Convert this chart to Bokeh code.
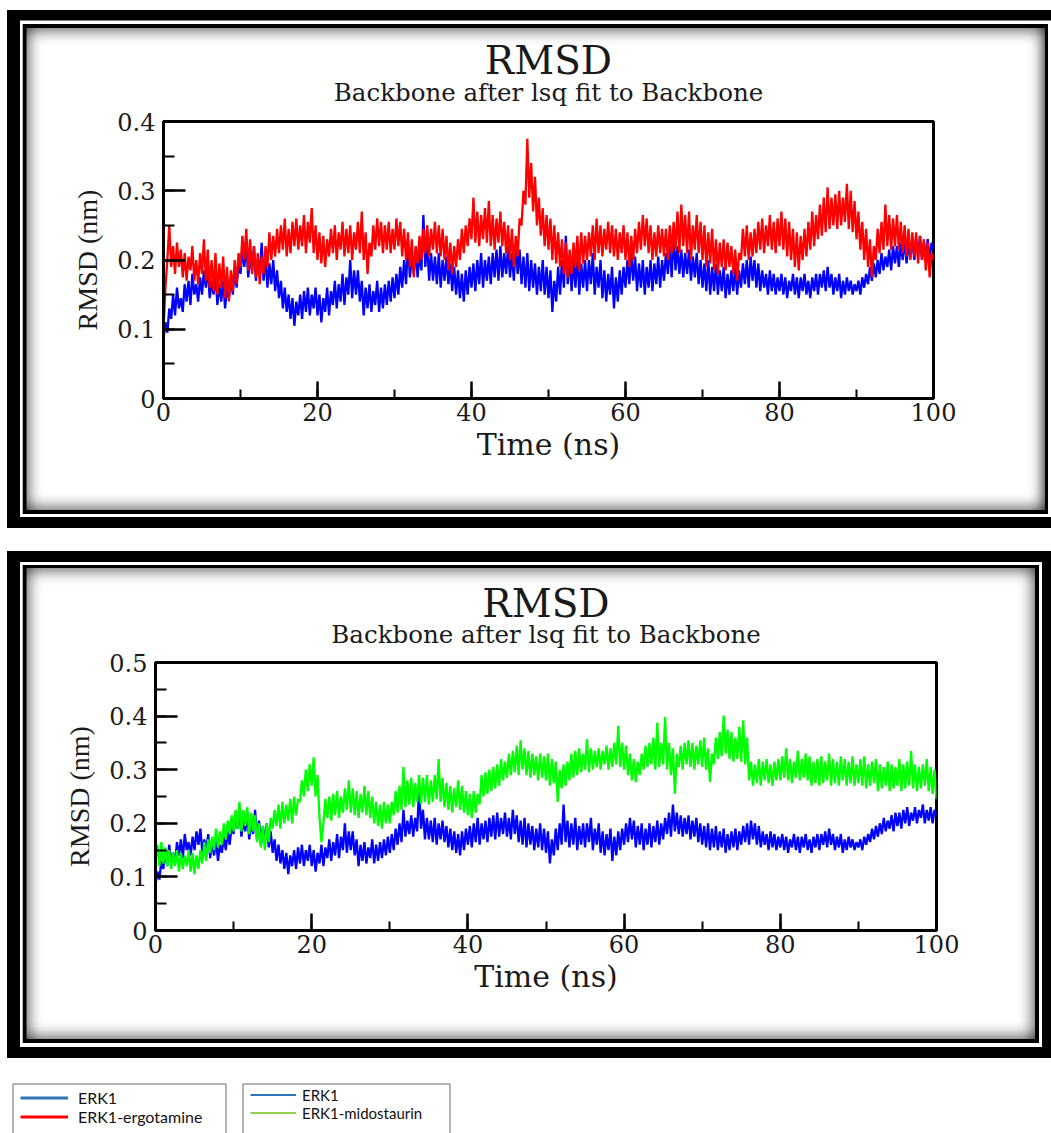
import numpy as np
from bokeh.plotting import figure
from bokeh.models import Range1d, SingleIntervalTicker, BoxAnnotation, Title, Legend, LegendItem
from bokeh.embed import file_html
from bokeh.resources import INLINE

# ---------------- data (0.25 ns sampling) ----------------
time_ns = np.arange(0, 100.01, 0.25)

erk1 = [
    0.085, 0.11, 0.095, 0.13, 0.115, 0.15, 0.12, 0.16, 0.13, 0.145, 0.125, 0.165, 0.14, 0.17, 0.135, 0.18, 0.15, 0.165, 0.14, 0.175,
    0.15, 0.185, 0.16, 0.19, 0.145, 0.17, 0.15, 0.18, 0.135, 0.165, 0.14, 0.17, 0.13, 0.16, 0.145, 0.175, 0.15, 0.185, 0.16, 0.195,
    0.18, 0.215, 0.19, 0.225, 0.175, 0.205, 0.185, 0.22, 0.17, 0.2, 0.18, 0.225, 0.17, 0.205, 0.16, 0.195, 0.165, 0.2, 0.155, 0.185,
    0.145, 0.17, 0.13, 0.16, 0.125, 0.15, 0.115, 0.145, 0.105, 0.14, 0.12, 0.15, 0.115, 0.155, 0.125, 0.16, 0.12, 0.15, 0.13, 0.16,
    0.12, 0.15, 0.11, 0.145, 0.125, 0.16, 0.12, 0.155, 0.135, 0.17, 0.13, 0.165, 0.14, 0.18, 0.135, 0.175, 0.15, 0.2, 0.145, 0.185,
    0.15, 0.185, 0.14, 0.17, 0.12, 0.16, 0.13, 0.165, 0.125, 0.155, 0.135, 0.17, 0.125, 0.16, 0.13, 0.165, 0.135, 0.17, 0.14, 0.175,
    0.145, 0.18, 0.15, 0.19, 0.16, 0.2, 0.165, 0.225, 0.175, 0.205, 0.18, 0.215, 0.175, 0.21, 0.185, 0.265, 0.19, 0.225, 0.17, 0.21,
    0.17, 0.205, 0.165, 0.21, 0.16, 0.2, 0.17, 0.205, 0.165, 0.195, 0.155, 0.19, 0.15, 0.185, 0.145, 0.18, 0.14, 0.185, 0.15, 0.19,
    0.16, 0.195, 0.155, 0.2, 0.165, 0.21, 0.16, 0.2, 0.17, 0.205, 0.165, 0.21, 0.175, 0.215, 0.17, 0.22, 0.175, 0.21, 0.18, 0.22,
    0.175, 0.21, 0.17, 0.225, 0.18, 0.215, 0.165, 0.205, 0.16, 0.21, 0.155, 0.2, 0.16, 0.195, 0.15, 0.19, 0.155, 0.2, 0.15, 0.19,
    0.145, 0.185, 0.125, 0.17, 0.14, 0.19, 0.15, 0.2, 0.16, 0.235, 0.165, 0.205, 0.155, 0.2, 0.16, 0.21, 0.15, 0.195, 0.16, 0.2,
    0.155, 0.2, 0.165, 0.21, 0.15, 0.19, 0.16, 0.2, 0.145, 0.185, 0.14, 0.18, 0.15, 0.19, 0.13, 0.175, 0.14, 0.185, 0.15, 0.19,
    0.16, 0.2, 0.165, 0.21, 0.17, 0.205, 0.155, 0.195, 0.16, 0.2, 0.15, 0.19, 0.16, 0.2, 0.155, 0.195, 0.165, 0.205, 0.16, 0.2,
    0.17, 0.21, 0.18, 0.22, 0.175, 0.235, 0.185, 0.22, 0.18, 0.215, 0.175, 0.21, 0.18, 0.215, 0.17, 0.205, 0.175, 0.21, 0.165, 0.2,
    0.16, 0.195, 0.155, 0.2, 0.15, 0.19, 0.155, 0.195, 0.15, 0.185, 0.155, 0.19, 0.145, 0.18, 0.15, 0.185, 0.155, 0.19, 0.15, 0.185,
    0.16, 0.195, 0.165, 0.2, 0.16, 0.205, 0.17, 0.2, 0.16, 0.195, 0.155, 0.185, 0.16, 0.18, 0.15, 0.185, 0.155, 0.18, 0.15, 0.175,
    0.155, 0.18, 0.15, 0.175, 0.145, 0.17, 0.155, 0.18, 0.15, 0.175, 0.145, 0.175, 0.155, 0.18, 0.15, 0.17, 0.145, 0.175, 0.155, 0.18,
    0.15, 0.18, 0.16, 0.185, 0.155, 0.19, 0.16, 0.18, 0.15, 0.175, 0.155, 0.18, 0.145, 0.17, 0.15, 0.175, 0.155, 0.17, 0.15, 0.165,
    0.155, 0.17, 0.15, 0.175, 0.16, 0.18, 0.165, 0.19, 0.17, 0.195, 0.175, 0.2, 0.18, 0.21, 0.185, 0.205, 0.19, 0.215, 0.185, 0.22,
    0.195, 0.22, 0.19, 0.225, 0.2, 0.23, 0.195, 0.22, 0.205, 0.23, 0.2, 0.225, 0.21, 0.235, 0.2, 0.225, 0.205, 0.23, 0.2, 0.225,
    0.215,
]

erk1_ergotamine = [
    0.1, 0.16, 0.2, 0.25, 0.19, 0.22, 0.18, 0.225, 0.19, 0.215, 0.175, 0.21, 0.17, 0.205, 0.185, 0.22, 0.17, 0.2, 0.165, 0.21,
    0.18, 0.23, 0.17, 0.215, 0.16, 0.2, 0.155, 0.21, 0.15, 0.195, 0.16, 0.205, 0.145, 0.19, 0.14, 0.185, 0.155, 0.2, 0.165, 0.21,
    0.19, 0.235, 0.2, 0.245, 0.185, 0.23, 0.18, 0.22, 0.175, 0.21, 0.165, 0.205, 0.18, 0.22, 0.19, 0.24, 0.2, 0.235, 0.205, 0.245,
    0.21, 0.25, 0.215, 0.26, 0.205, 0.245, 0.21, 0.255, 0.22, 0.26, 0.215, 0.25, 0.22, 0.265, 0.21, 0.255, 0.225, 0.275, 0.21, 0.25,
    0.2, 0.24, 0.195, 0.235, 0.19, 0.23, 0.205, 0.245, 0.21, 0.25, 0.2, 0.24, 0.215, 0.255, 0.205, 0.245, 0.21, 0.25, 0.2, 0.24,
    0.215, 0.255, 0.21, 0.27, 0.2, 0.24, 0.18, 0.225, 0.205, 0.25, 0.215, 0.26, 0.22, 0.255, 0.21, 0.25, 0.215, 0.255, 0.21, 0.245,
    0.215, 0.26, 0.22, 0.255, 0.205, 0.245, 0.2, 0.24, 0.19, 0.23, 0.175, 0.22, 0.195, 0.235, 0.2, 0.245, 0.21, 0.25, 0.205, 0.245,
    0.215, 0.255, 0.21, 0.25, 0.205, 0.245, 0.2, 0.235, 0.185, 0.225, 0.18, 0.22, 0.19, 0.23, 0.2, 0.245, 0.21, 0.25, 0.22, 0.26,
    0.23, 0.29, 0.225, 0.27, 0.22, 0.265, 0.23, 0.275, 0.225, 0.285, 0.22, 0.265, 0.215, 0.26, 0.225, 0.27, 0.22, 0.255, 0.21, 0.25,
    0.2, 0.245, 0.19, 0.235, 0.205, 0.26, 0.25, 0.3, 0.28, 0.375, 0.29, 0.34, 0.27, 0.32, 0.25, 0.29, 0.235, 0.275, 0.22, 0.265,
    0.215, 0.26, 0.2, 0.25, 0.195, 0.24, 0.19, 0.23, 0.18, 0.225, 0.175, 0.215, 0.18, 0.225, 0.19, 0.235, 0.185, 0.24, 0.195, 0.235,
    0.2, 0.24, 0.205, 0.25, 0.2, 0.26, 0.21, 0.25, 0.205, 0.245, 0.215, 0.255, 0.21, 0.25, 0.205, 0.245, 0.2, 0.24, 0.21, 0.25,
    0.2, 0.24, 0.19, 0.235, 0.2, 0.245, 0.21, 0.255, 0.215, 0.265, 0.22, 0.26, 0.21, 0.25, 0.2, 0.24, 0.205, 0.25, 0.21, 0.245,
    0.205, 0.245, 0.2, 0.25, 0.21, 0.255, 0.215, 0.27, 0.21, 0.28, 0.22, 0.265, 0.21, 0.27, 0.2, 0.25, 0.215, 0.265, 0.21, 0.255,
    0.2, 0.25, 0.19, 0.24, 0.195, 0.245, 0.185, 0.23, 0.18, 0.225, 0.19, 0.23, 0.185, 0.225, 0.19, 0.22, 0.18, 0.215, 0.17, 0.21,
    0.2, 0.245, 0.205, 0.25, 0.2, 0.24, 0.205, 0.245, 0.21, 0.255, 0.215, 0.26, 0.21, 0.25, 0.22, 0.265, 0.215, 0.255, 0.21, 0.26,
    0.22, 0.27, 0.215, 0.26, 0.205, 0.255, 0.2, 0.245, 0.19, 0.24, 0.185, 0.235, 0.2, 0.245, 0.205, 0.255, 0.215, 0.27, 0.22, 0.265,
    0.23, 0.28, 0.235, 0.29, 0.24, 0.305, 0.245, 0.29, 0.25, 0.295, 0.245, 0.3, 0.25, 0.29, 0.255, 0.31, 0.245, 0.3, 0.24, 0.285,
    0.23, 0.27, 0.215, 0.255, 0.2, 0.245, 0.19, 0.23, 0.175, 0.22, 0.2, 0.245, 0.21, 0.255, 0.215, 0.28, 0.22, 0.265, 0.215, 0.26,
    0.22, 0.265, 0.215, 0.255, 0.21, 0.25, 0.205, 0.245, 0.2, 0.24, 0.205, 0.24, 0.195, 0.235, 0.2, 0.23, 0.185, 0.225, 0.175, 0.21,
    0.2,
]

erk1_midostaurin = [
    0.13, 0.16, 0.12, 0.165, 0.125, 0.155, 0.12, 0.15, 0.115, 0.145, 0.12, 0.15, 0.11, 0.145, 0.115, 0.14, 0.12, 0.15, 0.11, 0.145,
    0.105, 0.14, 0.115, 0.15, 0.125, 0.165, 0.13, 0.17, 0.145, 0.175, 0.15, 0.19, 0.155, 0.185, 0.16, 0.2, 0.17, 0.205, 0.18, 0.215,
    0.185, 0.225, 0.19, 0.24, 0.185, 0.225, 0.195, 0.23, 0.18, 0.22, 0.185, 0.215, 0.165, 0.2, 0.155, 0.195, 0.15, 0.2, 0.165, 0.21,
    0.19, 0.225, 0.195, 0.235, 0.19, 0.24, 0.2, 0.235, 0.205, 0.245, 0.2, 0.25, 0.215, 0.245, 0.24, 0.28, 0.25, 0.3, 0.26, 0.31,
    0.27, 0.323, 0.25, 0.29, 0.21, 0.165, 0.2, 0.245, 0.21, 0.25, 0.205, 0.255, 0.215, 0.26, 0.21, 0.25, 0.22, 0.265, 0.225, 0.28,
    0.22, 0.265, 0.215, 0.26, 0.21, 0.255, 0.22, 0.27, 0.215, 0.26, 0.21, 0.25, 0.2, 0.24, 0.195, 0.235, 0.19, 0.24, 0.2, 0.235,
    0.2, 0.24, 0.215, 0.26, 0.22, 0.27, 0.225, 0.305, 0.23, 0.28, 0.235, 0.285, 0.23, 0.275, 0.24, 0.29, 0.235, 0.285, 0.24, 0.29,
    0.235, 0.28, 0.24, 0.29, 0.245, 0.32, 0.24, 0.285, 0.23, 0.275, 0.225, 0.27, 0.22, 0.265, 0.23, 0.28, 0.225, 0.27, 0.22, 0.26,
    0.215, 0.255, 0.21, 0.26, 0.22, 0.255, 0.235, 0.29, 0.25, 0.295, 0.255, 0.3, 0.26, 0.305, 0.265, 0.31, 0.27, 0.32, 0.28, 0.315,
    0.285, 0.33, 0.29, 0.335, 0.295, 0.345, 0.29, 0.355, 0.3, 0.34, 0.29, 0.335, 0.285, 0.33, 0.29, 0.325, 0.28, 0.33, 0.285, 0.325,
    0.28, 0.33, 0.27, 0.32, 0.275, 0.315, 0.24, 0.3, 0.265, 0.31, 0.27, 0.315, 0.28, 0.33, 0.285, 0.335, 0.29, 0.34, 0.295, 0.33,
    0.3, 0.357, 0.295, 0.34, 0.3, 0.335, 0.305, 0.34, 0.3, 0.335, 0.31, 0.345, 0.3, 0.34, 0.305, 0.35, 0.31, 0.382, 0.305, 0.35,
    0.3, 0.345, 0.29, 0.33, 0.28, 0.32, 0.277, 0.315, 0.29, 0.33, 0.3, 0.345, 0.305, 0.35, 0.31, 0.36, 0.3, 0.388, 0.305, 0.35,
    0.31, 0.398, 0.3, 0.35, 0.29, 0.34, 0.255, 0.33, 0.305, 0.345, 0.3, 0.35, 0.31, 0.355, 0.305, 0.35, 0.3, 0.345, 0.31, 0.355,
    0.305, 0.36, 0.3, 0.34, 0.277, 0.33, 0.31, 0.36, 0.32, 0.37, 0.325, 0.401, 0.33, 0.375, 0.32, 0.37, 0.315, 0.36, 0.32, 0.38,
    0.315, 0.392, 0.31, 0.36, 0.28, 0.315, 0.27, 0.31, 0.275, 0.32, 0.27, 0.315, 0.28, 0.32, 0.275, 0.31, 0.27, 0.315, 0.28, 0.32,
    0.28, 0.325, 0.285, 0.34, 0.28, 0.32, 0.275, 0.315, 0.285, 0.335, 0.28, 0.32, 0.285, 0.33, 0.28, 0.325, 0.27, 0.315, 0.275, 0.32,
    0.27, 0.325, 0.275, 0.315, 0.28, 0.33, 0.27, 0.32, 0.275, 0.315, 0.27, 0.325, 0.28, 0.32, 0.27, 0.315, 0.275, 0.325, 0.27, 0.31,
    0.275, 0.32, 0.27, 0.325, 0.265, 0.31, 0.27, 0.315, 0.275, 0.32, 0.26, 0.31, 0.265, 0.305, 0.27, 0.315, 0.26, 0.31, 0.265, 0.305,
    0.27, 0.32, 0.26, 0.31, 0.265, 0.315, 0.27, 0.335, 0.265, 0.31, 0.26, 0.305, 0.265, 0.31, 0.27, 0.32, 0.26, 0.305, 0.255, 0.3,
    0.245,
]

x_ticks_interval = 20
y_ticks_interval = 0.1
legend1_labels = ["ERK1", "ERK1-ergotamine"]
legend2_labels = ["ERK1", "ERK1-midostaurin"]

W = 1051
H1, H2 = 540, 525
H3 = 1133 - H1 - H2
SERIF = "DejaVu Serif"
TXT = "#1a1a1a"
LW = 2.3


def side(px, where, color, blur=0):
    off = {"l": f"{px}px 0", "r": f"-{px}px 0", "t": f"0 {px}px", "b": f"0 -{px}px"}[where]
    return f"inset {off} {blur}px 0 {color}"


def frame_css(layers):
    """layers: list of (dict side->px, color, blur), topmost first."""
    out = []
    for sides, color, blur in layers:
        for k, v in sides.items():
            out.append(side(v, k, color, blur))
    return ", ".join(out)


SH = "rgba(0,0,0,0.6)"
p1_css = frame_css([
    ({"l": 7, "t": 10, "b": 12}, "#ffffff", 0),
    ({"l": 20, "t": 20.5, "b": 23}, "#000000", 0),
    ({"l": 22.7, "t": 24, "b": 26, "r": 3}, "#ffffff", 0),
    ({"l": 26.5, "t": 28, "b": 30, "r": 6}, "#000000", 0),
    ({"l": 29, "t": 31, "b": 33, "r": 9}, SH, 14),
])
p2_css = frame_css([
    ({"l": 7, "t": 11, "b": 7}, "#ffffff", 0),
    ({"l": 20, "t": 22, "b": 18, "r": 9}, "#000000", 0),
    ({"l": 22.7, "t": 25, "b": 22, "r": 12}, "#ffffff", 0),
    ({"l": 26.5, "t": 28, "b": 26, "r": 16}, "#000000", 0),
    ({"l": 29, "t": 31, "b": 29, "r": 19}, SH, 14),
])


def make_panel(height, borders, ymax, css, sub_standoff, main_standoff):
    bl, br, bt, bb = borders
    p = figure(width=W, height=height, x_range=Range1d(0, 100), y_range=Range1d(0, ymax),
               output_backend="svg", toolbar_location=None,
               min_border_left=bl, min_border_right=br, min_border_top=bt, min_border_bottom=bb)
    p.styles = {"box-shadow": css}
    p.title.visible = False
    p.background_fill_color = "white"
    p.border_fill_alpha = 0.0
    p.xgrid.visible = False
    p.ygrid.visible = False
    p.outline_line_color = "black"
    p.outline_line_width = 3
    p.outline_line_alpha = 1.0

    p.xaxis.ticker = SingleIntervalTicker(interval=x_ticks_interval, num_minor_ticks=2)
    p.yaxis.ticker = SingleIntervalTicker(interval=y_ticks_interval, num_minor_ticks=2)
    p.yaxis.major_label_overrides = {0: "0"}
    for ax in (p.xaxis[0], p.yaxis[0]):
        ax.axis_line_width = 3
        ax.axis_line_color = "black"
        ax.major_tick_out = 0
        ax.minor_tick_out = 0
        ax.major_tick_line_width = 2.5
        ax.minor_tick_line_width = 2
        ax.major_tick_line_color = "black"
        ax.minor_tick_line_color = "black"
        ax.major_label_text_font = SERIF
        ax.major_label_text_font_size = "24px"
        ax.major_label_text_color = TXT
        ax.axis_label_text_font_style = "normal"
        ax.axis_label_text_color = TXT
    p.yaxis.major_tick_in = 22
    p.yaxis.minor_tick_in = 11
    p.xaxis.major_tick_in = 17
    p.xaxis.minor_tick_in = 9
    p.xaxis.major_label_standoff = 4
    p.yaxis.major_label_standoff = 8
    p.xaxis.axis_label = "Time (ns)"
    p.xaxis.axis_label_text_font = SERIF
    p.xaxis.axis_label_text_font_size = "30px"
    p.xaxis.axis_label_standoff = 3
    p.yaxis.axis_label = "RMSD (nm)"
    p.yaxis.axis_label_text_font = "Liberation Serif"
    p.yaxis.axis_label_text_font_size = "28px"
    p.yaxis.axis_label_standoff = 11

    sub = Title(text="Backbone after lsq fit to Backbone", align="center",
                text_font=SERIF, text_font_size="24.5px", text_font_style="normal",
                text_color=TXT, standoff=sub_standoff)
    main = Title(text="RMSD", align="center", text_font=SERIF, text_font_size="39px",
                 text_font_style="normal", text_color=TXT, standoff=main_standoff)
    p.add_layout(sub, "above")
    p.add_layout(main, "above")
    return p


# ---------------- panel 1 ----------------
p1 = make_panel(H1, (163, 118, 121, H1 - 398), 0.4, p1_css, 30, -44)
p1.line(time_ns, erk1, line_color="#0000FF", line_width=LW)
p1.line(time_ns, erk1_ergotamine, line_color="#FF0000", line_width=LW)

# ---------------- panel 2 ----------------
p2 = make_panel(H2, (155, 115, 122, H2 - 390), 0.5, p2_css, 28, -44)
p2.line(time_ns, erk1, line_color="#0000FF", line_width=LW)
p2.line(time_ns, erk1_midostaurin, line_color="#00FF00", line_width=LW)

# ---------------- legends ----------------
p3 = figure(width=W, height=H3, x_range=Range1d(0, 1), y_range=Range1d(0, 1),
            output_backend="svg", toolbar_location=None, min_border=0,
            x_axis_location=None, y_axis_location=None)
p3.title.visible = False
p3.xgrid.visible = False
p3.ygrid.visible = False
p3.outline_line_color = None
p3.border_fill_color = "white"

ra = p3.line(x=[-5, -4], y=[-5, -4], line_color="#2E75B6", line_width=3)
rb = p3.line(x=[-5, -4], y=[-5, -4], line_color="#FF0000", line_width=3)
rc = p3.line(x=[-5, -4], y=[-5, -4], line_color="#2E75B6", line_width=2)
rd = p3.line(x=[-5, -4], y=[-5, -4], line_color="#92D050", line_width=2)


def cbox(p, l, r, t, b, color="black", lw=1):
    p.add_layout(BoxAnnotation(
        left=l, right=r, top=t, bottom=b,
        left_units="canvas", right_units="canvas", top_units="canvas", bottom_units="canvas",
        fill_alpha=0.0, line_color=color, line_alpha=1.0, line_width=lw, level="annotation"))


cbox(p3, 12.5, 225.5, 18.5, 120, color="#6b6b6b")
cbox(p3, 242.5, 449.5, 18.5, 120, color="#6b6b6b")

lg1 = Legend(items=[LegendItem(label=legend1_labels[0], renderers=[ra]),
                    LegendItem(label=legend1_labels[1], renderers=[rb])],
             location=(16, H3 - 64.5), glyph_width=48, glyph_height=19, label_height=19,
             label_standoff=10, padding=4, spacing=0, margin=0,
             border_line_alpha=0, background_fill_alpha=0,
             label_text_font="Lato", label_text_font_size="16px", label_text_color="#111111")
lg2 = Legend(items=[LegendItem(label=legend2_labels[0], renderers=[rc]),
                    LegendItem(label=legend2_labels[1], renderers=[rd])],
             location=(246, H3 - 60.5), glyph_width=46, glyph_height=15, label_height=15,
             label_standoff=6, padding=4, spacing=0, margin=0,
             border_line_alpha=0, background_fill_alpha=0,
             label_text_font="Lato", label_text_font_size="15px", label_text_color="#111111")
p3.add_layout(lg1)
p3.add_layout(lg2)

open("out.html", "w").write(file_html([p1, p2, p3], INLINE))
